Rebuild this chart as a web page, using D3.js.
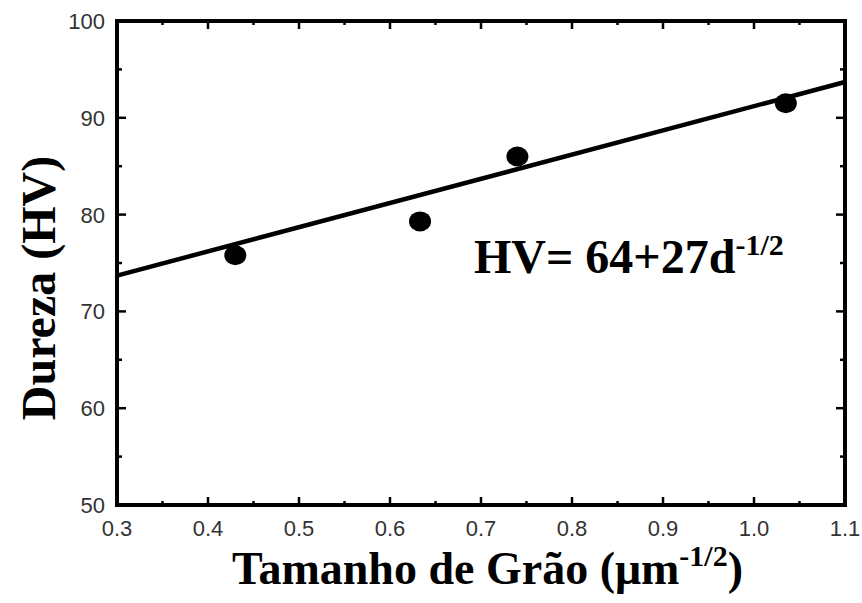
<!DOCTYPE html>
<html><head><meta charset="utf-8">
<script src="https://cdn.jsdelivr.net/npm/d3@7"></script>
<style>body{margin:0;background:#fff;} svg{display:block;}</style>
</head><body>
<script>
const grainSize = [0.43, 0.633, 0.74, 1.035];
const hardness = [75.8, 79.3, 86.0, 91.5];
const fitX = [0.3, 1.1];
const fitY = [73.7, 93.7];
const xTicks = [0.3, 0.4, 0.5, 0.6, 0.7, 0.8, 0.9, 1.0, 1.1];
const yTicks = [50, 60, 70, 80, 90, 100];

const W = 862, H = 603;
const m = {left:117, right:862-845, top:21, bottom:603-505};
const svg = d3.select("body").append("svg").attr("width", W).attr("height", H);
const x = d3.scaleLinear().domain([0.3, 1.1]).range([m.left, W - m.right]);
const y = d3.scaleLinear().domain([50, 100]).range([H - m.bottom, m.top]);

const xMinor = d3.range(0.35, 1.1, 0.1);
const yMinor = d3.range(55, 100, 10);

const tick = svg.append("g").attr("stroke", "#000").attr("stroke-width", 2.5);
function addTicks(vals, len) {
  vals.forEach(v => {
    tick.append("line").attr("x1", x(v)).attr("x2", x(v)).attr("y1", y(50)).attr("y2", y(50) - len);
    tick.append("line").attr("x1", x(v)).attr("x2", x(v)).attr("y1", y(100)).attr("y2", y(100) + len);
  });
}
function addYTicks(vals, len) {
  vals.forEach(v => {
    tick.append("line").attr("y1", y(v)).attr("y2", y(v)).attr("x1", x(0.3)).attr("x2", x(0.3) + len);
    tick.append("line").attr("y1", y(v)).attr("y2", y(v)).attr("x1", x(1.1)).attr("x2", x(1.1) - len);
  });
}
addTicks(xTicks, 8); addTicks(xMinor, 4);
addYTicks(yTicks, 9); addYTicks(yMinor, 5);

svg.append("rect").attr("x", x(0.3)).attr("y", y(100))
  .attr("width", x(1.1) - x(0.3)).attr("height", y(50) - y(100))
  .attr("fill", "none").attr("stroke", "#000").attr("stroke-width", 4);

const lab = svg.append("g").attr("font-family", "Liberation Sans, Arial, sans-serif")
  .attr("font-size", 22).attr("fill", "#333");
xTicks.forEach(v => lab.append("text").attr("x", x(v)).attr("y", y(50) + 31)
  .attr("text-anchor", "middle").text(v.toFixed(1)));
yTicks.forEach(v => lab.append("text").attr("x", x(0.3) - 12).attr("y", y(v) + 8)
  .attr("text-anchor", "end").text(v));

svg.append("path").datum(fitX.map((d, i) => [d, fitY[i]]))
  .attr("d", d3.line().x(d => x(d[0])).y(d => y(d[1])))
  .attr("stroke", "#000").attr("stroke-width", 4.5).attr("fill", "none");

svg.append("g").selectAll("ellipse").data(grainSize).join("ellipse")
  .attr("cx", d => x(d)).attr("cy", (d, i) => y(hardness[i]))
  .attr("rx", 11).attr("ry", 10).attr("fill", "#000");

const serif = "Liberation Serif, Times New Roman, serif";
const eq = svg.append("text").attr("x", 474).attr("y", 273)
  .attr("font-family", serif).attr("font-weight", "bold")
  .attr("font-size", 48).attr("fill", "#000");
eq.append("tspan").text("HV= 64+27d");
eq.append("tspan").attr("font-size", 30).attr("dy", -18).text("-1/2");

const xt = svg.append("text").attr("x", 232).attr("y", 584)
  .attr("font-family", serif).attr("font-weight", "bold")
  .attr("font-size", 46).attr("fill", "#000");
xt.append("tspan").text("Tamanho de Grão (μm");
xt.append("tspan").attr("font-size", 30).attr("dy", -18).text("-1/2");
xt.append("tspan").attr("dy", 18).text(")");

svg.append("text").attr("transform", "translate(55," + 288 + ") rotate(-90)")
  .attr("text-anchor", "middle")
  .attr("font-family", serif).attr("font-weight", "bold")
  .attr("font-size", 48).attr("fill", "#000").text("Dureza (HV)");
</script>
</body></html>
